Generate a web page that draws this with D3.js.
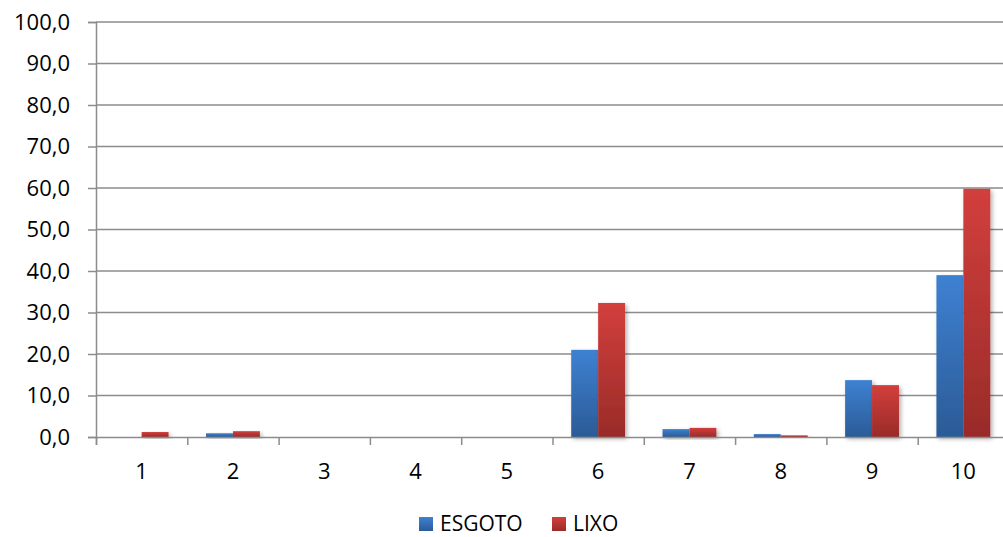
<!DOCTYPE html>
<html>
<head>
<meta charset="utf-8">
<script src="https://cdn.jsdelivr.net/npm/d3@7"></script>
<style>
  html, body { margin: 0; padding: 0; background: #fff; }
  svg { display: block; }
  text { font-family: "Open Sans", "Liberation Sans", sans-serif; fill: #000; }
</style>
</head>
<body>
<svg id="chart" width="1003" height="537"></svg>
<script>
const categories = ["1","2","3","4","5","6","7","8","9","10"];
const seriesNames = ["ESGOTO","LIXO"];
const esgoto = [0.0, 0.9, 0.0, 0.0, 0.0, 21.0, 1.9, 0.7, 13.7, 39.0];
const lixo   = [1.2, 1.4, 0.0, 0.0, 0.0, 32.3, 2.2, 0.4, 12.5, 59.8];
const yTicks = [0,10,20,30,40,50,60,70,80,90,100];

(function () {
const svg = d3.select("#chart");
const mLeft = 96, mRight = 1009, mTop = 22, mBottom = 437;

const x = d3.scaleBand().domain(categories).range([mLeft, mRight]).paddingInner(0.41).paddingOuter(0.205);
const xs = d3.scaleBand().domain(seriesNames).range([0, x.bandwidth()]).padding(0);
const y = d3.scaleLinear().domain([0, 100]).range([mBottom, mTop]);
const xb = d3.scaleLinear().domain([0, categories.length]).range([mLeft, mRight]);

const defs = svg.append("defs");
const grads = {
  ESGOTO: ["#3e81d2", "#2b5b96"],
  LIXO: ["#d23f3c", "#992b28"]
};
Object.entries(grads).forEach(([k, c]) => {
  const g = defs.append("linearGradient").attr("id", "g-" + k)
    .attr("x1", 0).attr("y1", 0).attr("x2", 0).attr("y2", 1);
  g.append("stop").attr("offset", "0%").attr("stop-color", c[0]);
  g.append("stop").attr("offset", "100%").attr("stop-color", c[1]);
});
const f = defs.append("filter").attr("id", "shadow").attr("x", "-20%").attr("y", "-20%").attr("width", "150%").attr("height", "150%");
f.append("feDropShadow").attr("dx", 2).attr("dy", 2).attr("stdDeviation", 2).attr("flood-color", "#000").attr("flood-opacity", 0.3);

const lineColor = "#8c8c8c";

// gridlines
svg.append("g").selectAll("line").data(yTicks.filter(d => d > 0)).join("line")
  .attr("x1", mLeft).attr("x2", mRight)
  .attr("y1", d => y(d)).attr("y2", d => y(d))
  .attr("stroke", lineColor).attr("stroke-width", 1.5);

// y axis
const yAxis = svg.append("g").attr("transform", `translate(${mLeft},0)`)
  .call(d3.axisLeft(y).tickValues(yTicks).tickSize(8).tickPadding(18)
    .tickFormat(d => d3.format(".1f")(d).replace(".", ",")));
yAxis.select(".domain").attr("stroke", lineColor).attr("stroke-width", 1.5);
yAxis.selectAll(".tick line").attr("stroke", lineColor).attr("stroke-width", 1.5);
yAxis.selectAll("text").attr("font-size", 22).attr("font-family", "Open Sans").attr("fill", "#000");

// bars
const data = categories.map((c, i) => ({ c, vals: [{ s: "ESGOTO", v: esgoto[i] }, { s: "LIXO", v: lixo[i] }] }));
const groups = svg.append("g").selectAll("g").data(data).join("g")
  .attr("transform", d => `translate(${x(d.c)},0)`);
groups.selectAll("rect").data(d => d.vals.filter(e => e.v > 0)).join("rect")
  .attr("x", d => xs(d.s))
  .attr("width", xs.bandwidth())
  .attr("y", d => y(d.v))
  .attr("height", d => y(0) - y(d.v))
  .attr("fill", d => `url(#g-${d.s})`)
  .attr("filter", "url(#shadow)");

// x axis
const xAxisG = svg.append("g").attr("transform", `translate(0,${mBottom})`);
xAxisG.call(d3.axisBottom(xb).tickValues(d3.range(0, categories.length + 1)).tickSize(8).tickFormat(""));
xAxisG.select(".domain").attr("stroke", lineColor).attr("stroke-width", 1.5);
xAxisG.selectAll(".tick line").attr("stroke", lineColor).attr("stroke-width", 1.5);
const xLab = svg.append("g").attr("transform", `translate(0,${mBottom})`)
  .call(d3.axisBottom(x).tickSize(0).tickPadding(26));
xLab.select(".domain").remove();
xLab.selectAll("text").attr("font-size", 22).attr("font-family", "Open Sans").attr("fill", "#000");

// legend
const legend = svg.append("g");
const legendItems = [
  { s: "ESGOTO", x: 419 },
  { s: "LIXO", x: 552 }
];
legendItems.forEach(it => {
  legend.append("rect").attr("x", it.x).attr("y", 517).attr("width", 14).attr("height", 14)
    .attr("fill", `url(#g-${it.s})`);
  legend.append("text").attr("x", it.x + 21).attr("y", 531)
    .attr("font-size", 21).text(it.s);
});
})();
</script>
</body>
</html>
